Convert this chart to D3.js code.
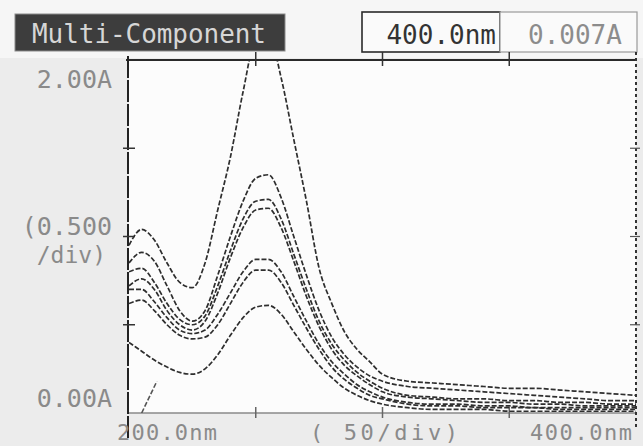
<!DOCTYPE html>
<html>
<head>
<meta charset="utf-8">
<script src="https://cdn.jsdelivr.net/npm/d3@7"></script>
<style>
  html, body { margin: 0; padding: 0; background: #ededed; }
  svg { display: block; }
  text { font-family: "DejaVu Sans Mono", "Liberation Mono", monospace; }
</style>
</head>
<body>
<svg id="chart" width="643" height="446"></svg>
<script>
// ---- data ----
const wavelengths = [200,205,210,215,220,225,230,235,240,245,250,255,260,265,270,275,280,285,290,295,300,310,320,330,340,350,360,370,380,390,400];
const s1 = [0.95,1.04,0.98,0.85,0.74,0.71,0.85,1.15,1.45,1.82,2.12,2.15,1.90,1.55,1.20,0.82,0.62,0.46,0.36,0.29,0.22,0.18,0.17,0.16,0.15,0.14,0.14,0.13,0.12,0.11,0.10];
const s2 = [0.85,0.91,0.86,0.72,0.58,0.52,0.58,0.78,1.00,1.20,1.33,1.35,1.22,1.00,0.78,0.58,0.43,0.33,0.26,0.21,0.18,0.15,0.14,0.13,0.12,0.11,0.10,0.09,0.08,0.07,0.07];
const s3 = [0.80,0.82,0.74,0.62,0.53,0.50,0.55,0.72,0.92,1.10,1.20,1.21,1.10,0.90,0.70,0.52,0.39,0.30,0.23,0.18,0.14,0.10,0.09,0.08,0.08,0.07,0.07,0.06,0.06,0.05,0.05];
const s4 = [0.72,0.76,0.70,0.58,0.50,0.47,0.52,0.68,0.88,1.05,1.15,1.16,1.05,0.86,0.66,0.49,0.36,0.27,0.21,0.16,0.12,0.09,0.08,0.07,0.06,0.06,0.05,0.05,0.04,0.04,0.04];
const s5 = [0.70,0.70,0.63,0.54,0.47,0.45,0.47,0.56,0.68,0.80,0.87,0.87,0.80,0.66,0.52,0.39,0.29,0.22,0.16,0.12,0.09,0.06,0.05,0.05,0.04,0.04,0.03,0.03,0.03,0.03,0.03];
const s6 = [0.62,0.64,0.58,0.50,0.44,0.42,0.43,0.50,0.62,0.74,0.81,0.81,0.74,0.61,0.48,0.36,0.26,0.19,0.14,0.10,0.08,0.05,0.04,0.04,0.03,0.03,0.03,0.02,0.02,0.02,0.02];
const s7 = [0.40,0.35,0.30,0.26,0.23,0.22,0.25,0.33,0.44,0.54,0.60,0.61,0.56,0.46,0.36,0.27,0.20,0.14,0.10,0.07,0.05,0.03,0.02,0.02,0.02,0.01,0.01,0.01,0.01,0.01,0.01];
const fragWavelengths = [205, 208, 211];
const fragValues = [0.00, 0.09, 0.18];

const headerTitle = "Multi-Component";
const headerWavelength = "400.0nm";
const headerAbs = "0.007A";
const yTopLabel = "2.00A";
const yMidLabel1 = "(0.500";
const yMidLabel2 = "/div)";
const yBottomLabel = "0.00A";
const xLeftLabel = "200.0nm";
const xMidLabel = "( 50/div)";
const xRightLabel = "400.0nm";
const xTicks = [200, 250, 300, 350, 400];
const yTicks = [0, 0.5, 1.0, 1.5, 2.0];

// ---- layout ----
const svg = d3.select("#chart");
const L = 129, R = 636, T = 60, B = 413;
const x = d3.scaleLinear().domain([200, 400]).range([L, R]);
const y = d3.scaleLinear().domain([0, 2]).range([B, T]);

// backgrounds
svg.append("rect").attr("x", 0).attr("y", 0).attr("width", 643).attr("height", 446).attr("fill", "#ececec");
svg.append("rect").attr("x", 0).attr("y", 0).attr("width", 643).attr("height", 58).attr("fill", "#f6f6f6");
svg.append("rect").attr("x", L).attr("y", T).attr("width", R - L).attr("height", B - T).attr("fill", "#fcfcfc");

// header
svg.append("rect").attr("x", 15).attr("y", 14).attr("width", 270).attr("height", 37)
  .attr("fill", "#3d3d3d").attr("stroke", "#8a8a8a").attr("stroke-width", 1);
svg.append("text").attr("x", 32).attr("y", 43).attr("font-size", 26).attr("fill", "#d6d6d6")
  .attr("textLength", 234).text(headerTitle);
svg.append("rect").attr("x", 362).attr("y", 12).attr("width", 138).attr("height", 40)
  .attr("fill", "#fafafa").attr("stroke", "#2a2a2a").attr("stroke-width", 1.6);
svg.append("text").attr("x", 496).attr("y", 44).attr("font-size", 26).attr("fill", "#333")
  .attr("text-anchor", "end").text(headerWavelength);
svg.append("rect").attr("x", 500).attr("y", 12).attr("width", 137).attr("height", 40)
  .attr("fill", "#fafafa").attr("stroke", "#9a9a9a").attr("stroke-width", 1.2);
svg.append("text").attr("x", 528).attr("y", 44).attr("font-size", 26).attr("fill", "#8c8c8c")
  .text(headerAbs);

// clip
svg.append("clipPath").attr("id", "plotclip").append("rect")
  .attr("x", L).attr("y", T).attr("width", R - L).attr("height", B - T);

// axes lines
svg.append("line").attr("x1", L).attr("x2", R).attr("y1", B).attr("y2", B)
  .attr("stroke", "#8a8a8a").attr("stroke-width", 1.5);
svg.append("line").attr("x1", L - 3).attr("x2", R).attr("y1", T).attr("y2", T)
  .attr("stroke", "#2a2a2a").attr("stroke-width", 1.8);
svg.append("line").attr("x1", L - 1).attr("x2", L - 1).attr("y1", T - 4).attr("y2", 440)
  .attr("stroke", "#222").attr("stroke-width", 2).attr("stroke-dasharray", "22,2");
svg.append("line").attr("x1", R).attr("x2", R).attr("y1", 52).attr("y2", 430)
  .attr("stroke", "#333").attr("stroke-width", 2).attr("stroke-dasharray", "3,3");

// x ticks (top & bottom)
const xt = svg.append("g");
xTicks.slice(1, -1).forEach(v => {
  xt.append("line").attr("x1", x(v)).attr("x2", x(v)).attr("y1", T - 8).attr("y2", T + 6)
    .attr("stroke", "#333").attr("stroke-width", 1.5);
  xt.append("line").attr("x1", x(v)).attr("x2", x(v)).attr("y1", B - 6).attr("y2", B + 5)
    .attr("stroke", "#666").attr("stroke-width", 1.5);
});
// y ticks (left & right)
yTicks.slice(1, -1).forEach(v => {
  xt.append("line").attr("x1", L - 6).attr("x2", L + 6).attr("y1", y(v)).attr("y2", y(v))
    .attr("stroke", "#333").attr("stroke-width", 1.5);
  xt.append("line").attr("x1", R - 6).attr("x2", R + 4).attr("y1", y(v)).attr("y2", y(v))
    .attr("stroke", "#555").attr("stroke-width", 1.2);
});

// axis labels
const lab = svg.append("g").attr("fill", "#8a8a8a").attr("font-size", 25);
lab.append("text").attr("x", 112).attr("y", 88).attr("text-anchor", "end").text(yTopLabel);
lab.append("text").attr("x", 112).attr("y", 235).attr("text-anchor", "end").text(yMidLabel1);
lab.append("text").attr("x", 106).attr("y", 263).attr("text-anchor", "end").attr("font-size", 23).text(yMidLabel2);
lab.append("text").attr("x", 112).attr("y", 407).attr("text-anchor", "end").text(yBottomLabel);
const bl = svg.append("g").attr("fill", "#8a8a8a").attr("font-size", 22);
bl.append("text").attr("x", 117).attr("y", 440).attr("textLength", 100).text(xLeftLabel);
bl.append("text").attr("x", 310).attr("y", 440).attr("textLength", 148).text(xMidLabel);
bl.append("text").attr("x", 530).attr("y", 440).attr("textLength", 102).text(xRightLabel);

// curves
const series = [s1, s2, s3, s4, s5, s6, s7];
const line = d3.line().x(d => x(d[0])).y(d => y(d[1])).curve(d3.curveMonotoneX);
const g = svg.append("g").attr("clip-path", "url(#plotclip)");
series.forEach(vals => {
  g.append("path").datum(wavelengths.map((w, i) => [w, vals[i]]))
    .attr("d", line).attr("fill", "none").attr("stroke", "#2e2e2e")
    .attr("stroke-width", 1.7).attr("stroke-dasharray", "5,2");
});
g.append("path").datum(fragWavelengths.map((w, i) => [w, fragValues[i]]))
  .attr("d", line).attr("fill", "none").attr("stroke", "#555")
  .attr("stroke-width", 1.6).attr("stroke-dasharray", "5,2");
</script>
</body>
</html>
